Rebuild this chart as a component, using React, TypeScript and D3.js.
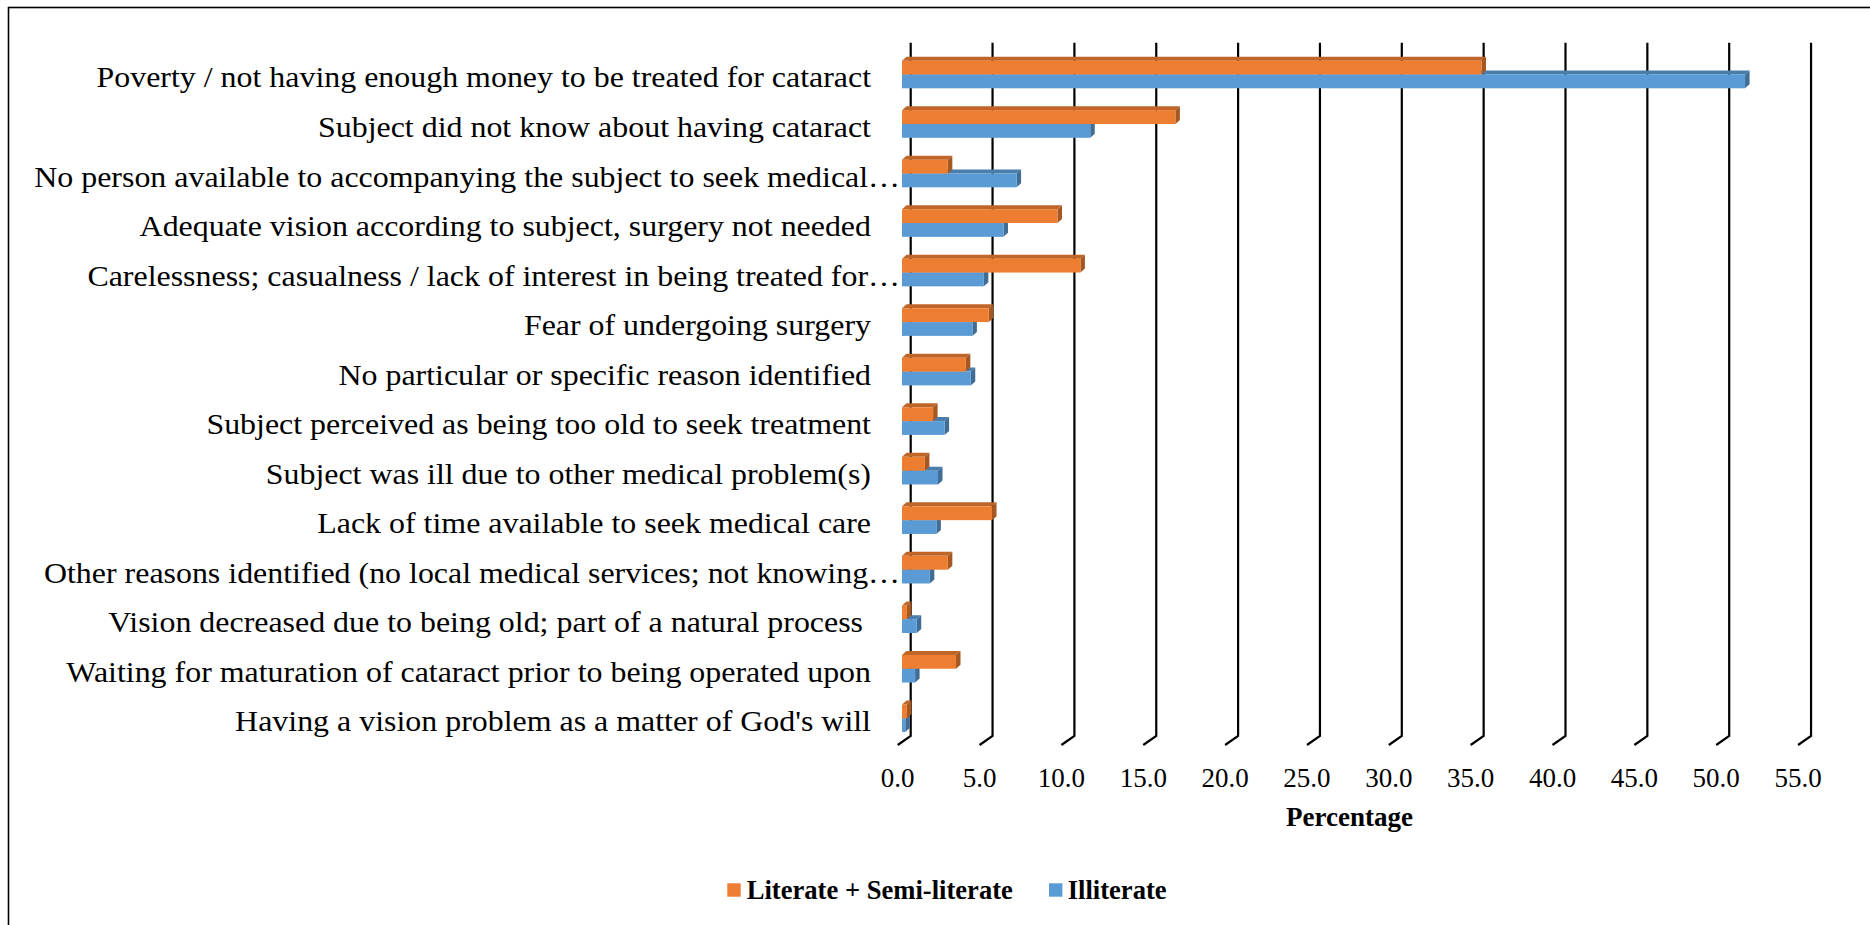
import React from 'react';
import * as d3 from 'd3';

const categories = [
  'Poverty / not having enough money to be treated for cataract',
  'Subject did not know about having cataract',
  'No person available to accompanying the subject to seek medical…',
  'Adequate vision according to subject, surgery not needed',
  'Carelessness; casualness / lack of interest in being treated for…',
  'Fear of undergoing surgery',
  'No particular or specific reason identified',
  'Subject perceived as being too old to seek treatment',
  'Subject was ill due to other medical problem(s)',
  'Lack of time available to seek medical care',
  'Other reasons identified (no local medical services; not knowing…',
  'Vision decreased due to being old; part of a natural process ',
  'Waiting for maturation of cataract prior to being operated upon',
  "Having a vision problem as a matter of God's will",
];
const literateSemi = [35.4, 16.7, 2.8, 9.5, 10.9, 5.3, 3.9, 1.9, 1.4, 5.5, 2.8, 0.3, 3.3, 0.3];
const illiterate = [51.5, 11.5, 7.0, 6.2, 5.0, 4.3, 4.2, 2.6, 2.2, 2.1, 1.7, 0.9, 0.8, 0.2];
const seriesNames = ['Literate + Semi-literate', 'Illiterate'];
const seriesColors = ['#ED7D31', '#5B9BD5'];
const xTicks = [0, 5, 10, 15, 20, 25, 30, 35, 40, 45, 50, 55];
const xTickLabels = ['0.0', '5.0', '10.0', '15.0', '20.0', '25.0', '30.0', '35.0', '40.0', '45.0', '50.0', '55.0'];
const axisTitle = 'Percentage';

const W = 1870;
const H = 925;
const FRONT_X0 = 902;
const UNIT = 16.37;
const BACK_DX = 8.7;
const BACK_DY = -7;
const BACK_TOP = 42.7;
const BACK_BOTTOM = 736;
const DEPTH_DX = 4.5;
const DEPTH_DY = -4;
const FLOOR_DX = -13;
const FLOOR_DY = 9;
const SERIF = "'Liberation Serif', 'Times New Roman', serif";

export default function App() {
  const x = d3.scaleLinear().domain([0, 55]).range([FRONT_X0, FRONT_X0 + 55 * UNIT]);
  const yBack = d3
    .scaleBand<string>()
    .domain(categories)
    .range([BACK_TOP, BACK_BOTTOM])
    .paddingInner(0.442)
    .paddingOuter(0.221);
  const ySub = d3.scaleBand<string>().domain(seriesNames).range([0, yBack.bandwidth()]);
  const series = [literateSemi, illiterate];

  const bar = (v: number, y0: number, h: number, color: string, key: string) => {
    const x0 = x(0);
    const x1 = x(v);
    const y1 = y0 + h;
    const c = d3.color(color)!;
    const top = c.darker(0.6).formatHex();
    const side = c.darker(1.0).formatHex();
    return (
      <g key={key}>
        <polygon
          points={`${x0},${y0} ${x0 + DEPTH_DX},${y0 + DEPTH_DY} ${x1 + DEPTH_DX},${y0 + DEPTH_DY} ${x1},${y0}`}
          fill={top}
        />
        <polygon
          points={`${x1},${y0} ${x1 + DEPTH_DX},${y0 + DEPTH_DY} ${x1 + DEPTH_DX},${y1 + DEPTH_DY} ${x1},${y1}`}
          fill={side}
        />
        <rect x={x0} y={y0} width={Math.max(0, x1 - x0)} height={h} fill={color} />
      </g>
    );
  };

  return (
    <svg
      width={W}
      height={H}
      style={{ position: 'absolute', left: 0, top: 0, background: '#fff' }}
      xmlns="http://www.w3.org/2000/svg"
    >
      <rect x={0} y={0} width={W} height={H} fill="#fff" />
      <rect x={8.5} y={7.5} width={W + 20} height={H + 20} fill="none" stroke="#000" strokeWidth={1.6} />

      {/* gridlines on back wall with floor diagonals */}
      {xTicks.map((t) => {
        const gx = x(t) + BACK_DX;
        return (
          <polyline
            key={'g' + t}
            points={`${gx},${BACK_TOP} ${gx},${BACK_BOTTOM} ${gx + FLOOR_DX},${BACK_BOTTOM + FLOOR_DY}`}
            fill="none"
            stroke="#000"
            strokeWidth={2.2}
          />
        );
      })}

      {/* bars */}
      {categories.map((cat, i) => {
        const yb = (yBack(cat) as number) - BACK_DY;
        const order = [1, 0];
        return (
          <g key={'r' + i}>
            {order.map((s) =>
              bar(series[s][i], yb + (ySub(seriesNames[s]) as number), ySub.bandwidth(), seriesColors[s], `b${i}-${s}`)
            )}
          </g>
        );
      })}

      {/* category labels */}
      {categories.map((cat, i) => {
        const cy = (yBack(cat) as number) + yBack.bandwidth() / 2;
        const ax = cat.endsWith('…') ? 900 : 871;
        return (
          <g key={'l' + i} transform={`translate(${ax}, ${cy + 20}) scale(1.12, 1)`}>
            <text textAnchor="end" fontFamily={SERIF} fontSize={28.5} fill="#000" style={{ whiteSpace: 'pre' }}>
              {cat}
            </text>
          </g>
        );
      })}

      {/* tick labels */}
      {xTicks.map((t, i) => (
        <text
          key={'t' + t}
          x={x(t) + BACK_DX + FLOOR_DX}
          y={786.5}
          textAnchor="middle"
          fontFamily={SERIF}
          fontSize={27}
          fill="#000"
        >
          {xTickLabels[i]}
        </text>
      ))}

      <text x={1349.5} y={826} textAnchor="middle" fontFamily={SERIF} fontSize={27} fontWeight="bold" fill="#000">
        {axisTitle}
      </text>

      {/* legend */}
      <rect x={727.3} y={883.3} width={13.4} height={13.4} fill={seriesColors[0]} />
      <text x={746.7} y={899.3} fontFamily={SERIF} fontSize={26.6} fontWeight="bold" fill="#000">
        {seriesNames[0]}
      </text>
      <rect x={1049} y={883.3} width={13.4} height={13.4} fill={seriesColors[1]} />
      <text x={1067.7} y={899.3} fontFamily={SERIF} fontSize={26.6} fontWeight="bold" fill="#000">
        {seriesNames[1]}
      </text>
    </svg>
  );
}
